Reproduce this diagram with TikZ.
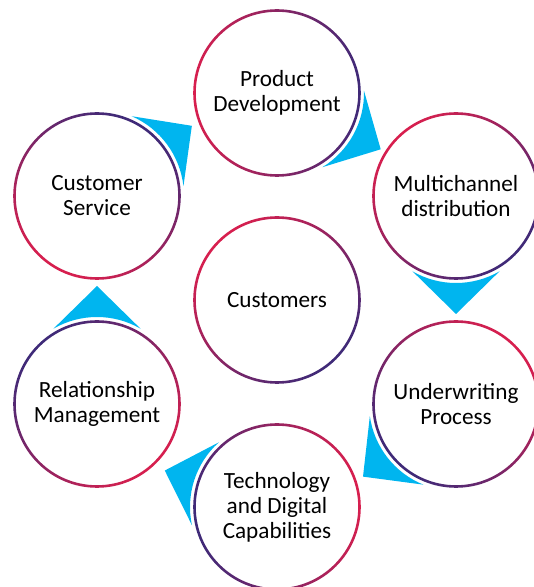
\documentclass[tikz,border=0pt]{standalone}
\usepackage{fontspec}
\setmainfont{Carlito}
\usepackage{xcolor}
\usetikzlibrary{calc}
\definecolor{RingRed}{HTML}{D81F4E}
\definecolor{RingPurple}{HTML}{3E2A78}
\definecolor{FlowCyan}{HTML}{00B5EF}
% gradient ring round a stage node: node name, shading angle
\newcommand{\ring}[2]{%
  \shade[top color=RingRed, bottom color=RingPurple, shading angle=#2, even odd rule]
    (#1.center) circle[radius=83.8] (#1.center) circle[radius=81.2];}
% cyan flow arrow hugging its source node: node name, direction
\newcommand{\flow}[2]{%
  \pgfmathsetmacro{\fa}{#2-30}\pgfmathsetmacro{\fb}{#2+30}%
  \fill[FlowCyan] ($(#1.center)+(\fa:87)$) arc[start angle=\fa, end angle=\fb, radius=87]
    -- ($(#1.center)+(#2:118)$) -- cycle;}

\begin{document}
\begin{tikzpicture}[
  x=1pt, y=1pt,
  stage/.style={circle, minimum size=165pt, inner sep=0pt, align=center, font=\fontsize{23.2}{25}\selectfont}
]
  \useasboundingbox (0,0) rectangle (534,587);
  \node[stage] (product) at (277,494) {Product\\Development};
  \node[stage] (channel) at (456,391) {Multichannel\\distribution};
  \node[stage] (underwriting) at (456,183) {Underwriting\\Process};
  \node[stage] (technology) at (277,80) {Technology\\and Digital\\Capabilities};
  \node[stage] (relationship) at (97,183) {Relationship\\Management};
  \node[stage] (service) at (97,391) {Customer\\Service};
  \node[stage] (customers) at (277,287) {Customers};
  \ring{product}{90}
  \ring{channel}{45}
  \ring{underwriting}{-45}
  \ring{technology}{-80}
  \ring{relationship}{-135}
  \ring{service}{150}
  \ring{customers}{45}
  \flow{service}{36.5}
  \flow{product}{-28.5}
  \flow{channel}{-90}
  \flow{underwriting}{218}
  \flow{technology}{162}
  \flow{relationship}{90}
\end{tikzpicture}
\end{document}
